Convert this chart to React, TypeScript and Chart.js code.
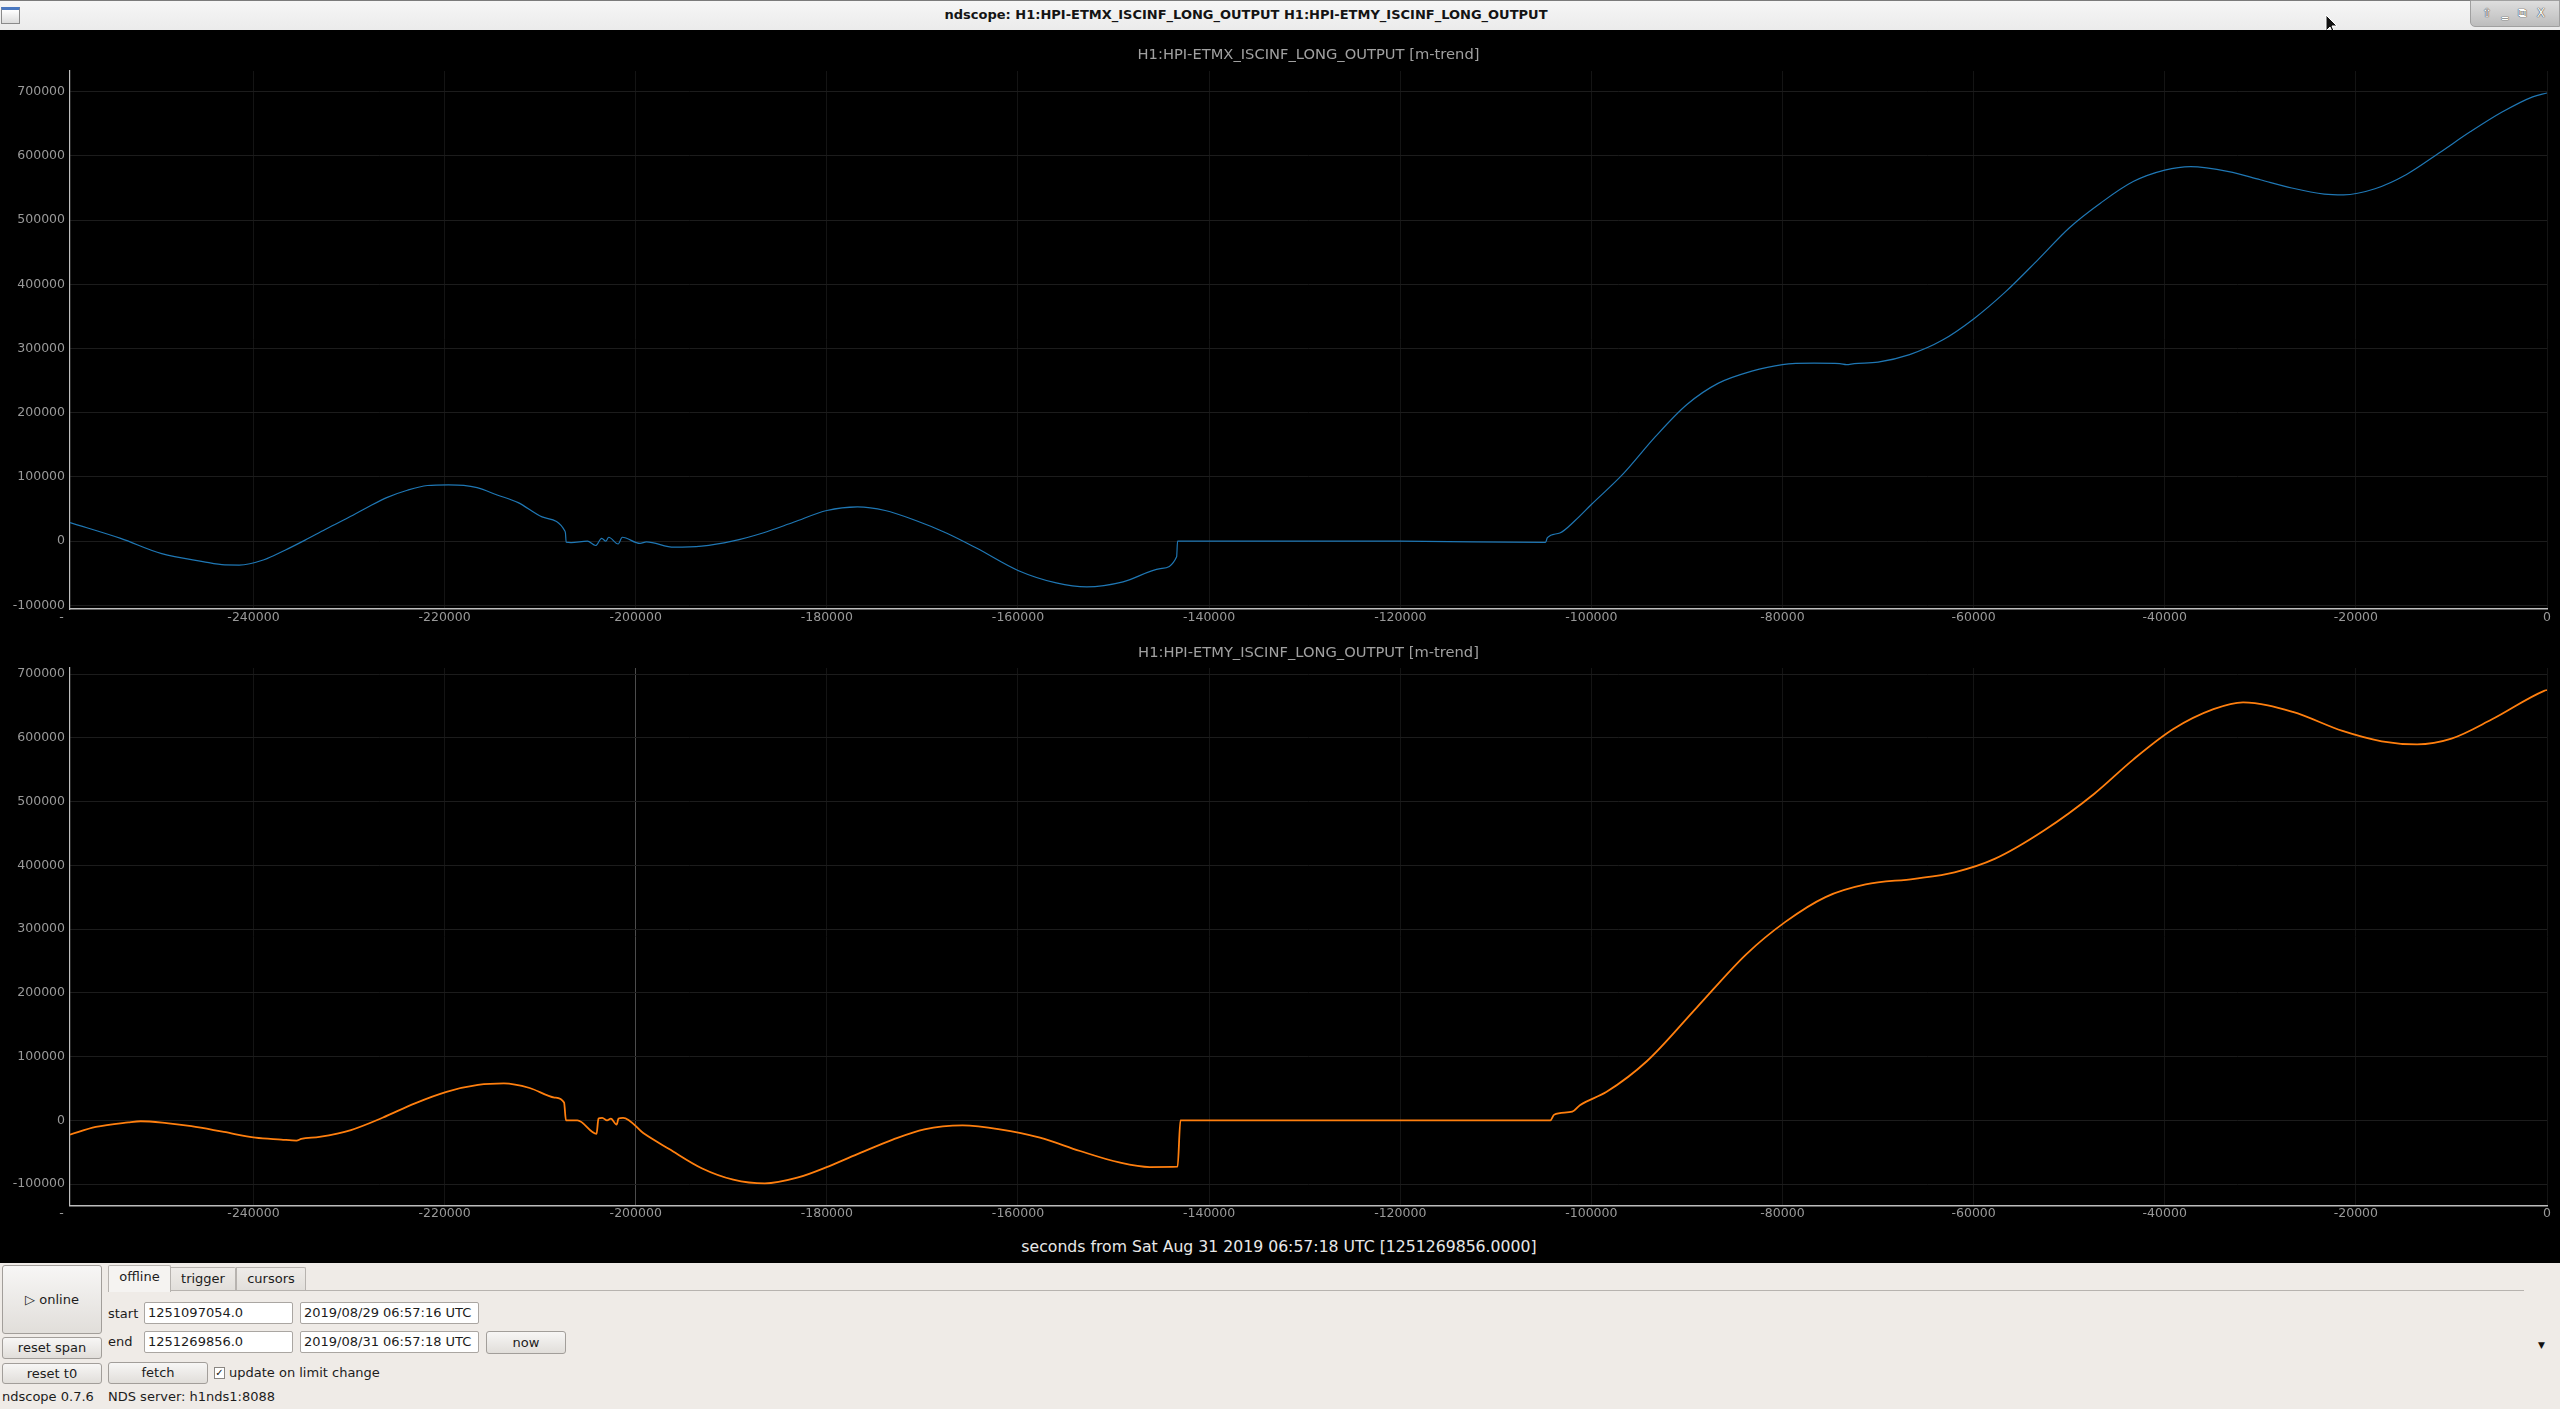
import React, { useEffect, useRef } from "react";
import { Chart, registerables } from "chart.js";

Chart.register(...registerables);

// ---------- data ----------
const xTicks = [-240000, -220000, -200000, -180000, -160000, -140000, -120000, -100000, -80000, -60000, -40000, -20000, 0];
const yTicks = [-100000, 0, 100000, 200000, 300000, 400000, 500000, 600000, 700000];

const xMin = -259200;
const xMax = 0;
const topYMin = -105600;
const topYMax = 732200;
const bottomYMin = -133500;
const bottomYMax = 709500;

const etmxTime = [
  -259200, -253900, -249600, -245300, -243000, -241500, -238900, -236700, -234600, -232500,
  -230300, -228200, -226000, -223900, -221800, -219600, -218000, -216600, -214500, -212300,
  -209800, -207400, -207350, -207280, -206770, -205060, -204200, -203560, -203130, -202830,
  -201840, -201410, -199550, -198880, -196000, -193100, -189900, -186700, -183500, -180000,
  -176800, -173900, -170700, -167500, -164300, -160000, -156000, -152800, -149000, -145100,
  -143400, -143300, -120000, -104800, -104600, -103300, -101700, -100000, -96700, -93300,
  -90000, -86700, -83300, -80000, -76700, -74000, -73300, -72500, -70000, -66700,
  -63300, -60000, -56700, -53300, -50000, -46700, -43300, -40000, -37300, -33300,
  -30000, -26700, -23300, -21300, -18000, -14700, -11300, -8000, -4700, -1500, 0,
];
const etmxValue = [
  29000, 4400, -19400, -31700, -37000, -37200, -28900, -14000, 1700, 18300,
  35000, 51700, 68300, 79400, 86700, 87800, 87000, 83300, 72000, 60000,
  37800, 15600, 12000, -1500, -2200, 0, -6700, 4400, 0, 6100,
  -4400, 6100, -3500, -1100, -9400, -7800, 0, 12800, 29400, 47800,
  53300, 47800, 32200, 12800, -11100, -45600, -65000, -71100, -63300, -42800,
  -24400, 0, 0, -2000, 5600, 12800, 32200, 57200, 104400, 162800,
  212800, 246100, 264400, 275000, 277200, 276500, 275000, 276500, 278900, 290600,
  312800, 346100, 387800, 437800, 487800, 526700, 560000, 577800, 583300, 575600,
  562800, 550000, 540600, 539400, 548900, 571100, 604400, 637800, 668300, 692000, 698000,
];

const etmyTime = [
  -259200, -256500, -253100, -251800, -249100, -246500, -243100, -239800, -237100, -235500,
  -235000, -233100, -229800, -226500, -223100, -219800, -216500, -213800, -211100, -208500,
  -207500, -207300, -206100, -204100, -203900, -203500, -203000, -202600, -202000, -201800,
  -201330, -199100, -196500, -193100, -189800, -186500, -183100, -179800, -176500, -173100,
  -169800, -165800, -161900, -157700, -153500, -149400, -146200, -143300, -143000, -120000,
  -104300, -103900, -102000, -101200, -98400, -94200, -89000, -83800, -79700, -75500,
  -71300, -66200, -62000, -57800, -52600, -47400, -43300, -39100, -34900, -31800,
  -26600, -21400, -17300, -13600, -10000, -5800, -300, 0,
];
const etmyValue = [
  -22200, -10200, -3000, -1200, -4200, -9000, -18000, -26900, -29900, -31500,
  -29000, -25700, -15000, 4200, 26900, 44900, 55700, 58100, 50900, 35900,
  28100, 0, 0, -21000, 3000, 4200, 0, 3000, -6600, 3000,
  4200, -21000, -44900, -74900, -92800, -98800, -89800, -71900, -50900, -29900,
  -13800, -7800, -13800, -26900, -47900, -65900, -73100, -72500, 0, 0,
  0, 9000, 13800, 24000, 44900, 92800, 176600, 260500, 311400, 350300,
  370100, 379000, 389200, 410200, 455100, 512000, 565900, 613800, 644900, 655700,
  640700, 610800, 594600, 589800, 598800, 628700, 673700, 675000,
];

const topTitle = "H1:HPI-ETMX_ISCINF_LONG_OUTPUT [m-trend]";
const bottomTitle = "H1:HPI-ETMY_ISCINF_LONG_OUTPUT [m-trend]";
const windowTitle = "ndscope: H1:HPI-ETMX_ISCINF_LONG_OUTPUT H1:HPI-ETMY_ISCINF_LONG_OUTPUT";
const xAxisLabel = "seconds from Sat Aug 31 2019 06:57:18 UTC [1251269856.0000]";

// ---------- chart helpers ----------
const TICK_COLOR = "#999999";
const HGRID_COLOR = "#1c1c1c";
const VGRID_COLOR = "#141414";
const AXIS_COLOR = "#bdbdbd";

const plotTitlePlugin = {
  id: "plotTitle",
  afterDraw(chart: any, _args: any, opts: any) {
    const { ctx, chartArea } = chart;
    ctx.save();
    ctx.fillStyle = "#a0a0a0";
    ctx.textAlign = "center";
    ctx.textBaseline = "middle";
    ctx.font = '14.7px "DejaVu Sans"';
    ctx.fillText(opts.text, (chartArea.left + chartArea.right) / 2, opts.y);
    ctx.fillStyle = TICK_COLOR;
    ctx.font = '12.5px "DejaVu Sans"';
    ctx.fillText("-", chartArea.left - 8.5, chartArea.bottom + 8.5);
    ctx.restore();
  },
};

function makeConfig(
  times: number[],
  values: number[],
  color: string,
  width: number,
  yMin: number,
  yMax: number,
  title: string,
  titleY: number,
  padTop: number,
  xHeight: number,
  highlightTick: number | null
): any {
  const tickFont = { family: "DejaVu Sans", size: 12.5 };
  return {
    type: "line",
    data: {
      datasets: [
        {
          data: times.map((t, i) => ({ x: t, y: values[i] })),
          borderColor: color,
          borderWidth: width,
          pointRadius: 0,
          fill: false,
          cubicInterpolationMode: "monotone",
        },
      ],
    },
    options: {
      animation: false,
      responsive: false,
      maintainAspectRatio: false,
      events: [],
      layout: { padding: { top: padTop, right: 13, left: 0, bottom: 0 } },
      plugins: {
        legend: { display: false },
        title: { display: false },
        tooltip: { enabled: false },
        plotTitle: { text: title, y: titleY },
      },
      scales: {
        x: {
          type: "linear",
          min: xMin,
          max: xMax,
          afterBuildTicks: (s: any) => {
            s.ticks = xTicks.map((v) => ({ value: v }));
          },
          afterFit: (s: any) => {
            s.height = xHeight;
          },
          grid: {
            color: (c: any) =>
              highlightTick !== null && c.tick && c.tick.value === highlightTick ? "#4c4c4c" : VGRID_COLOR,
            lineWidth: 1,
            drawTicks: false,
          },
          border: { color: AXIS_COLOR, width: 1.6 },
          ticks: {
            color: TICK_COLOR,
            font: tickFont,
            padding: 1,
            maxRotation: 0,
            autoSkip: false,
            callback: (v: any) => String(v),
          },
        },
        y: {
          type: "linear",
          min: yMin,
          max: yMax,
          afterBuildTicks: (s: any) => {
            s.ticks = yTicks.map((v) => ({ value: v }));
          },
          afterFit: (s: any) => {
            s.width = 70;
          },
          grid: { color: HGRID_COLOR, lineWidth: 1, drawTicks: false },
          border: { color: AXIS_COLOR, width: 1.2 },
          ticks: {
            color: TICK_COLOR,
            font: tickFont,
            padding: 5,
            autoSkip: false,
            callback: (v: any) => String(v),
          },
        },
      },
    },
    plugins: [plotTitlePlugin],
  };
}

// ---------- UI bits ----------
const btn: React.CSSProperties = {
  position: "absolute",
  boxSizing: "border-box",
  background: "linear-gradient(#f7f6f5, #e1deda)",
  border: "1px solid #a29e9a",
  borderRadius: 3,
  textAlign: "center",
  color: "#1c1c1c",
  fontSize: 13,
};
const field: React.CSSProperties = {
  position: "absolute",
  boxSizing: "border-box",
  background: "#ffffff",
  border: "1px solid #aaa6a2",
  borderRadius: 2,
  paddingLeft: 3,
  color: "#1c1c1c",
  fontSize: 13,
  lineHeight: "20px",
  whiteSpace: "nowrap",
};
const label: React.CSSProperties = {
  position: "absolute",
  color: "#1c1c1c",
  fontSize: 13,
  whiteSpace: "nowrap",
};

export default function App() {
  const topRef = useRef<HTMLCanvasElement | null>(null);
  const botRef = useRef<HTMLCanvasElement | null>(null);

  useEffect(() => {
    const c1 = new Chart(
      topRef.current as HTMLCanvasElement,
      makeConfig(etmxTime, etmxValue, "#1f77b4", 1.2, topYMin, topYMax, topTitle, 25.5, 41, 31, null)
    );
    const c2 = new Chart(
      botRef.current as HTMLCanvasElement,
      makeConfig(etmyTime, etmyValue, "#ff7f0e", 1.8, bottomYMin, bottomYMax, bottomTitle, 13, 28, 26.4, -200000)
    );
    return () => {
      c1.destroy();
      c2.destroy();
    };
  }, []);

  return (
    <div
      style={{
        position: "fixed",
        left: 0,
        top: 0,
        width: 2560,
        height: 1409,
        overflow: "hidden",
        background: "#efebe7",
        fontFamily: '"DejaVu Sans", sans-serif',
      }}
    >
      {/* window title bar */}
      <div
        style={{
          position: "absolute",
          left: 0,
          top: 0,
          width: 2560,
          height: 30,
          boxSizing: "border-box",
          borderTop: "1px solid #7b7b7b",
          background: "linear-gradient(#f6f6f6, #ebebeb)",
        }}
      />
      <div
        style={{
          position: "absolute",
          left: 0,
          top: 0,
          width: 2492,
          height: 30,
          lineHeight: "30px",
          textAlign: "center",
          fontWeight: "bold",
          fontSize: 13,
          color: "#141414",
          whiteSpace: "nowrap",
        }}
      >
        {windowTitle}
      </div>
      <div
        style={{
          position: "absolute",
          left: 1,
          top: 7,
          width: 19,
          height: 17,
          boxSizing: "border-box",
          border: "1px solid #8a8a8a",
          borderTop: "3px solid #4a78c0",
          background: "linear-gradient(#ffffff, #dcdcdc)",
        }}
      />
      <div
        style={{
          position: "absolute",
          left: 2470,
          top: 0,
          width: 90,
          height: 27,
          boxSizing: "border-box",
          border: "1px solid #a0a0a0",
          borderBottomLeftRadius: 5,
          background: "linear-gradient(#dedede, #bdbdbd)",
          color: "#ffffff",
          fontSize: 12,
          lineHeight: "25px",
          textAlign: "center",
          letterSpacing: 3,
          textShadow: "0 0 1px #333, 0 0 1px #333",
          whiteSpace: "nowrap",
        }}
      >
        ⇧ ‗ ⧉ X
      </div>
      <svg style={{ position: "absolute", left: 2325, top: 14 }} width="14" height="22" viewBox="0 0 14 22">
        <path d="M1 1 L1 17 L5 13 L8 20 L10 19 L7 12 L12 12 Z" fill="#111" stroke="#fff" strokeWidth="1" />
      </svg>

      {/* black plot area */}
      <div style={{ position: "absolute", left: 0, top: 30, width: 2560, height: 1233, background: "#000000" }} />
      <canvas
        ref={topRef}
        width={2560}
        height={610}
        style={{ position: "absolute", left: 0, top: 30, width: 2560, height: 610 }}
      />
      <canvas
        ref={botRef}
        width={2560}
        height={592}
        style={{ position: "absolute", left: 0, top: 640, width: 2560, height: 592 }}
      />
      <div
        style={{
          position: "absolute",
          left: 0,
          top: 1236,
          width: 2558,
          height: 22,
          lineHeight: "22px",
          textAlign: "center",
          color: "#e8e8e8",
          fontSize: 15.7,
          whiteSpace: "nowrap",
        }}
      >
        {xAxisLabel}
      </div>

      {/* control panel */}
      <div style={{ ...btn, left: 2, top: 1265, width: 100, height: 69, lineHeight: "67px" }}>▷ online</div>
      <div style={{ ...btn, left: 2, top: 1337, width: 100, height: 22, lineHeight: "20px" }}>reset span</div>
      <div style={{ ...btn, left: 2, top: 1363, width: 100, height: 21, lineHeight: "19px" }}>reset t0</div>

      <div style={{ position: "absolute", left: 108, top: 1290, width: 2416, height: 1, background: "#b7b3af" }} />
      <div
        style={{
          position: "absolute",
          left: 170,
          top: 1267,
          width: 66,
          height: 23,
          boxSizing: "border-box",
          border: "1px solid #b7b3af",
          borderBottom: "none",
          borderTopRightRadius: 2,
          background: "linear-gradient(#eeebe8, #e2dfdb)",
          textAlign: "center",
          lineHeight: "22px",
          fontSize: 13,
          color: "#1c1c1c",
        }}
      >
        trigger
      </div>
      <div
        style={{
          position: "absolute",
          left: 236,
          top: 1267,
          width: 70,
          height: 23,
          boxSizing: "border-box",
          border: "1px solid #b7b3af",
          borderBottom: "none",
          borderTopRightRadius: 2,
          background: "linear-gradient(#eeebe8, #e2dfdb)",
          textAlign: "center",
          lineHeight: "22px",
          fontSize: 13,
          color: "#1c1c1c",
        }}
      >
        cursors
      </div>
      <div
        style={{
          position: "absolute",
          left: 108,
          top: 1265,
          width: 63,
          height: 27,
          boxSizing: "border-box",
          border: "1px solid #b7b3af",
          borderBottom: "none",
          borderTopLeftRadius: 2,
          borderTopRightRadius: 2,
          background: "#f5f3f1",
          textAlign: "center",
          lineHeight: "22px",
          fontSize: 13,
          color: "#1c1c1c",
        }}
      >
        offline
      </div>

      <div style={{ ...label, left: 108, top: 1305, lineHeight: "18px" }}>start</div>
      <div style={{ ...field, left: 144, top: 1302, width: 149, height: 22 }}>1251097054.0</div>
      <div style={{ ...field, left: 300, top: 1302, width: 179, height: 22 }}>2019/08/29 06:57:16 UTC</div>

      <div style={{ ...label, left: 108, top: 1333, lineHeight: "18px" }}>end</div>
      <div style={{ ...field, left: 144, top: 1331, width: 149, height: 22 }}>1251269856.0</div>
      <div style={{ ...field, left: 300, top: 1331, width: 179, height: 22 }}>2019/08/31 06:57:18 UTC</div>
      <div style={{ ...btn, left: 486, top: 1331, width: 80, height: 23, lineHeight: "21px" }}>now</div>

      <div style={{ ...btn, left: 108, top: 1362, width: 100, height: 22, lineHeight: "20px" }}>fetch</div>
      <div
        style={{
          position: "absolute",
          left: 214,
          top: 1367,
          width: 11,
          height: 12,
          boxSizing: "border-box",
          border: "1px solid #8a8682",
          background: "#ffffff",
          fontSize: 10,
          lineHeight: "10px",
          textAlign: "center",
          fontWeight: "bold",
          color: "#111",
        }}
      >
        ✓
      </div>
      <div style={{ ...label, left: 229, top: 1364, lineHeight: "18px" }}>update on limit change</div>

      <div style={{ ...label, left: 2, top: 1388, lineHeight: "18px" }}>ndscope 0.7.6</div>
      <div style={{ ...label, left: 108, top: 1388, lineHeight: "18px" }}>NDS server: h1nds1:8088</div>

      <div style={{ ...label, left: 2538, top: 1339, fontSize: 9, lineHeight: "12px", color: "#111" }}>▼</div>
    </div>
  );
}
